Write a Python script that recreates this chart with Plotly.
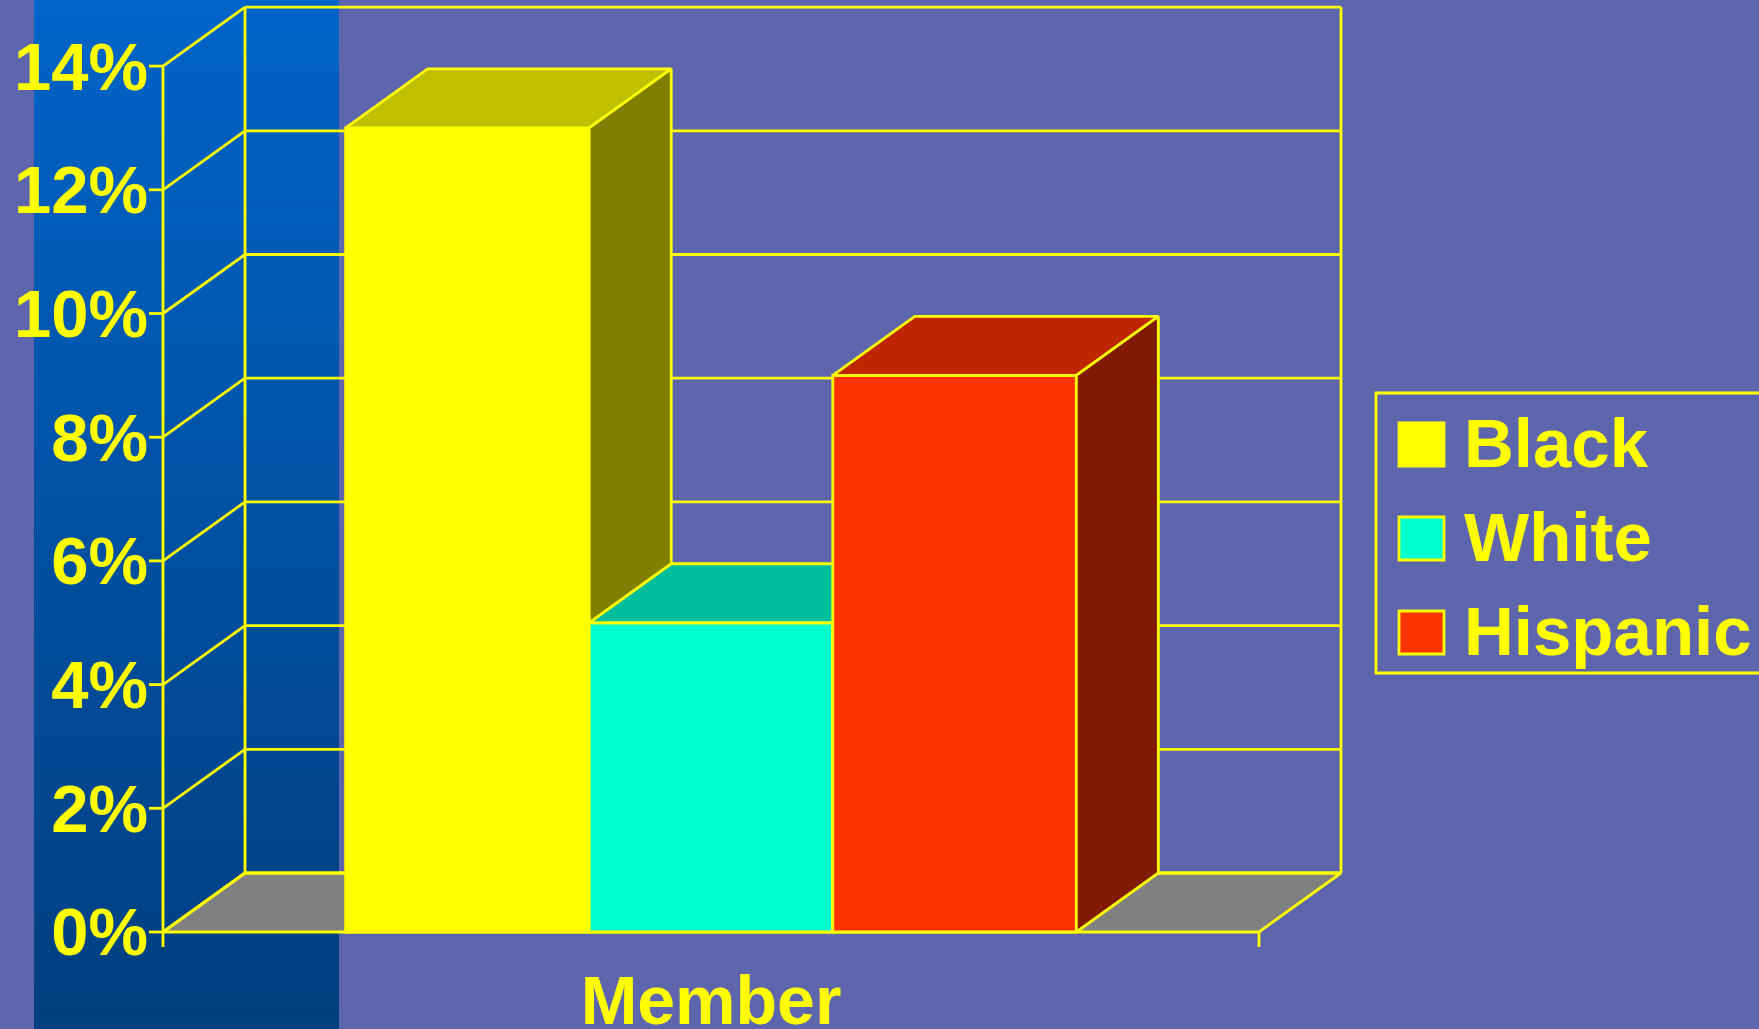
import plotly.graph_objects as go

# ---- data -------------------------------------------------------------
categories = ["Member"]
series_names = ["Black", "White", "Hispanic"]
series_values = [13, 5, 9]          # percent
front_colors = ["#FFFF00", "#00FFCC", "#FF3300"]
top_colors = ["#C0C000", "#00BE9B", "#BF2600"]
side_colors = ["#808000", "#008066", "#801A00"]
tick_values = [0, 2, 4, 6, 8, 10, 12, 14]
tick_labels = ["0%", "2%", "4%", "6%", "8%", "10%", "12%", "14%"]

# ---- page / projection geometry (pixels) -------------------------------
W_FIG, H_FIG = 1759, 1029
PL, PR, PT, PB = 149, 1352, 4, 955          # plot area box
X0_PX, Y0_PX = 163, 932                     # front-left floor corner
PX_PER_X = 1096                              # one category unit
PX_PER_Y = 61.85                             # one percent
DEPTH_X_PX, DEPTH_Y_PX = 82, 59              # oblique depth offset
TICK_PX = 15
LW = 2.8

YELLOW = "#FFFF00"
BG = "#5D66AD"
FONT = "Liberation Sans, Arial, sans-serif"

x_range = [-0.5 - (X0_PX - PL) / PX_PER_X, -0.5 + (PR - X0_PX) / PX_PER_X]
y_range = [-(PB - Y0_PX) / PX_PER_Y, (Y0_PX - PT) / PX_PER_Y]
DX = DEPTH_X_PX / PX_PER_X
DY = DEPTH_Y_PX / PX_PER_Y
y_top = max(tick_values)


def paper_x(px):
    return (px - PL) / (PR - PL)


def paper_y(py):
    return (PB - py) / (PB - PT)


fig = go.Figure()

# ---- floor ---------------------------------------------------------------
fx = [-0.5, 0.5, 0.5 + DX, -0.5 + DX, -0.5]
fy = [0, 0, DY, DY, 0]
fig.add_trace(go.Scatter(x=fx, y=fy, mode="lines", fill="toself",
                         fillcolor="#808080",
                         line=dict(color=YELLOW, width=LW),
                         hoverinfo="skip", showlegend=False))

# ---- walls, gridlines, axis and ticks ----------------------------------------
gx, gy = [], []
for k in tick_values:
    # back wall gridline
    gx += [-0.5 + DX, 0.5 + DX, None]
    gy += [k + DY, k + DY, None]
    # side wall diagonal
    gx += [-0.5, -0.5 + DX, None]
    gy += [k, k + DY, None]
    # tick mark on the front axis
    gx += [-0.5 - TICK_PX / PX_PER_X, -0.5, None]
    gy += [k, k, None]
# back wall verticals
for xv in (-0.5 + DX, 0.5 + DX):
    gx += [xv, xv, None]
    gy += [DY, y_top + DY, None]
# front value axis, extending below the floor
gx += [-0.5, -0.5, None]
gy += [y_top, -TICK_PX / PX_PER_Y, None]
# category-axis end tick
gx += [0.5, 0.5, None]
gy += [0, -TICK_PX / PX_PER_Y, None]
fig.add_trace(go.Scatter(x=gx, y=gy, mode="lines",
                         line=dict(color=YELLOW, width=LW),
                         hoverinfo="skip", showlegend=False))

# ---- 3-D bars, one overlay subplot each (left to right for occlusion) --------
n = len(series_values)
bar_w = (1 - 1 / 3) / n
for i, (name, v) in enumerate(zip(series_names, series_values)):
    ax_id = i + 2
    xa, ya = f"x{ax_id}", f"y{ax_id}"
    off = -n * bar_w / 2 + i * bar_w
    left, right = off, off + bar_w
    fig.add_trace(go.Bar(x=[0], y=[v], width=[bar_w], offset=[off],
                         name=name, marker=dict(color=front_colors[i],
                                                line=dict(color=YELLOW, width=LW)),
                         xaxis=xa, yaxis=ya, showlegend=False))
    # top face
    fig.add_trace(go.Scatter(
        x=[left, right, right + DX, left + DX, left],
        y=[v, v, v + DY, v + DY, v],
        mode="lines", fill="toself", fillcolor=top_colors[i],
        line=dict(color=YELLOW, width=LW), hoverinfo="skip",
        showlegend=False, xaxis=xa, yaxis=ya))
    # right side face
    fig.add_trace(go.Scatter(
        x=[right, right, right + DX, right + DX, right],
        y=[0, v, v + DY, DY, 0],
        mode="lines", fill="toself", fillcolor=side_colors[i],
        line=dict(color=YELLOW, width=LW), hoverinfo="skip",
        showlegend=False, xaxis=xa, yaxis=ya))

# ---- background band ---------------------------------------------------------
shapes = []
band_top = (0, 100, 200)
band_bot = (0, 62, 127)
steps = 60
for s in range(steps):
    t = s / (steps - 1)
    c = tuple(round(a + (b - a) * t) for a, b in zip(band_top, band_bot))
    y0p = H_FIG * s / steps
    y1p = H_FIG * (s + 1) / steps + 1
    shapes.append(dict(type="rect", xref="paper", yref="paper", layer="below",
                       x0=paper_x(34), x1=paper_x(339),
                       y0=paper_y(y1p), y1=paper_y(y0p),
                       fillcolor=f"rgb{c}", line=dict(width=0)))

# ---- legend ------------------------------------------------------------------
LEG_L, LEG_T, LEG_B, LEG_R = 1376, 393, 673, 1775
shapes.append(dict(type="rect", xref="paper", yref="paper",
                   x0=paper_x(LEG_L), x1=paper_x(LEG_R),
                   y0=paper_y(LEG_B), y1=paper_y(LEG_T),
                   line=dict(color=YELLOW, width=LW), fillcolor="rgba(0,0,0,0)"))
annotations = []
row_top0, row_step, sw_w, sw_h = 423, 94, 45, 43
for i, name in enumerate(series_names):
    top = row_top0 + i * row_step
    shapes.append(dict(type="rect", xref="paper", yref="paper",
                       x0=paper_x(1399), x1=paper_x(1399 + sw_w),
                       y0=paper_y(top + sw_h), y1=paper_y(top),
                       fillcolor=front_colors[i],
                       line=dict(color=YELLOW, width=LW)))
    annotations.append(dict(xref="paper", yref="paper",
                            x=paper_x(1462), y=paper_y(top + sw_h / 2 - 1),
                            xanchor="left", yanchor="middle", showarrow=False,
                            text=name,
                            font=dict(family=FONT, size=69, color=YELLOW,
                                      weight="bold")))

fig.update_layout(
    width=W_FIG, height=H_FIG,
    margin=dict(l=PL, r=W_FIG - PR, t=PT, b=H_FIG - PB, pad=0, autoexpand=False),
    paper_bgcolor=BG, plot_bgcolor="rgba(0,0,0,0)",
    barmode="overlay", showlegend=False,
    shapes=shapes, annotations=annotations,
    xaxis=dict(range=x_range, tickvals=[0], ticktext=categories, ticks="",
               showgrid=False, zeroline=False, showline=False, automargin=False,
               tickfont=dict(family=FONT, size=68, color=YELLOW, weight="bold"),
               fixedrange=True),
    yaxis=dict(range=y_range, tickvals=tick_values, ticktext=tick_labels,
               ticks="", showgrid=False, zeroline=False, showline=False,
               automargin=False,
               tickfont=dict(family=FONT, size=67, color=YELLOW, weight="bold"),
               fixedrange=True),
)
for k in range(2, n + 2):
    fig.update_layout(**{
        f"xaxis{k}": dict(range=x_range, overlaying="x", visible=False,
                          fixedrange=True),
        f"yaxis{k}": dict(range=y_range, overlaying="y", visible=False,
                          fixedrange=True),
    })

fig.write_html("out.html")
